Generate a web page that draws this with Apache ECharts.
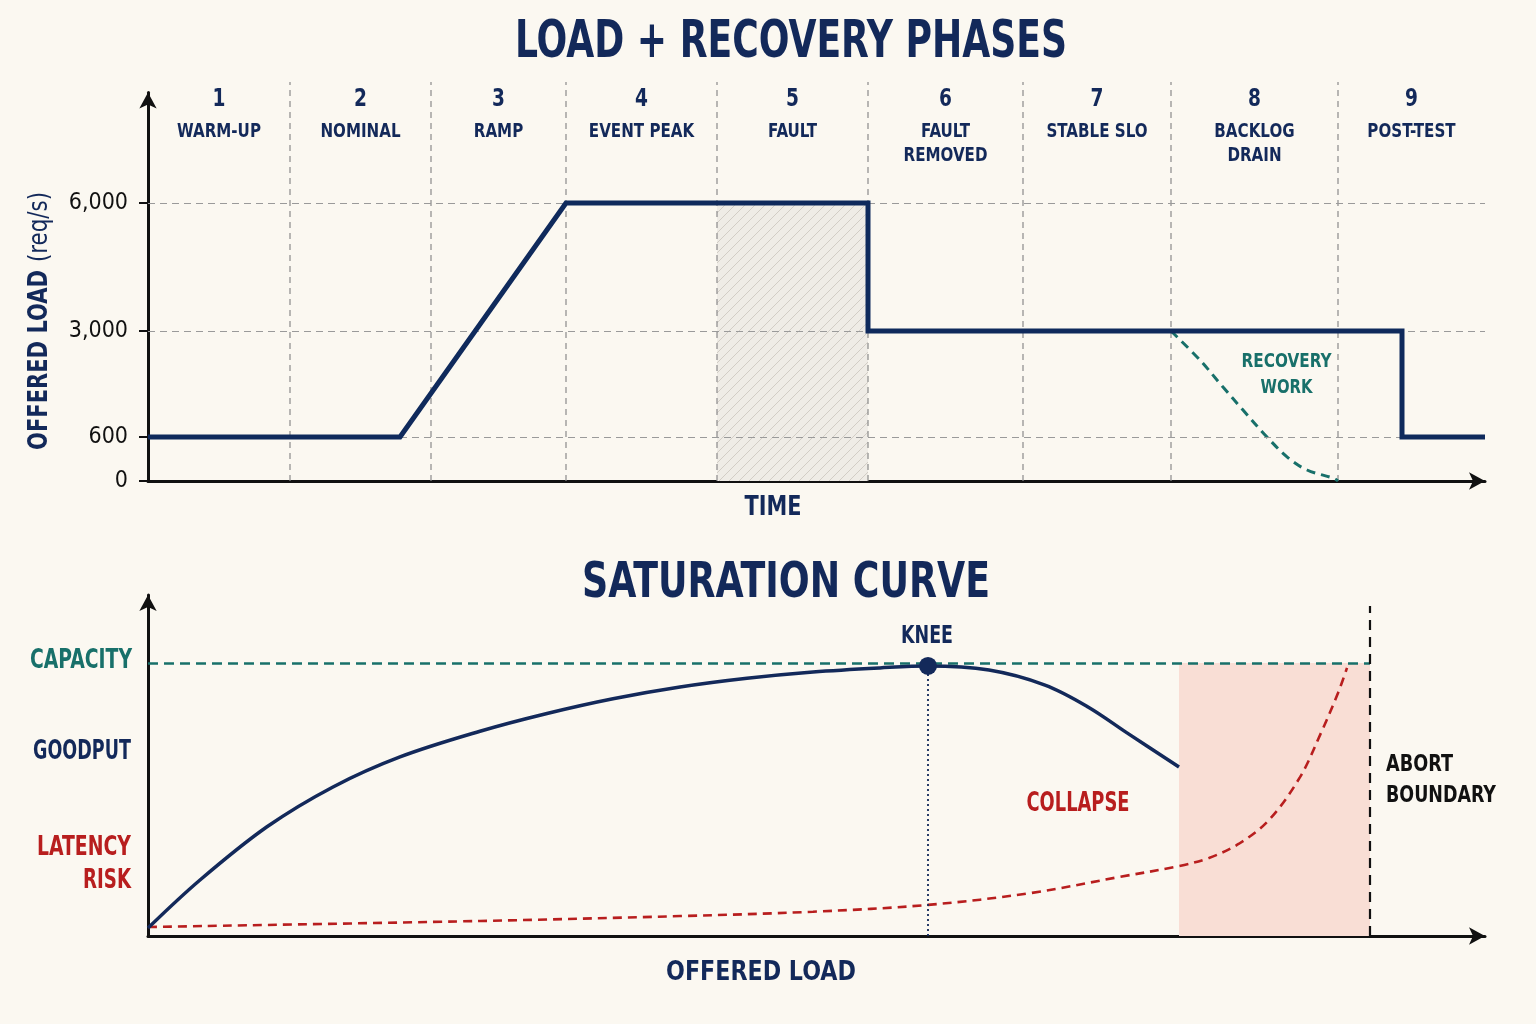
<!DOCTYPE html>
<html>
<head>
<meta charset="utf-8">
<script src="https://cdn.jsdelivr.net/npm/echarts@6/dist/echarts.min.js"></script>
<style>
html,body{margin:0;padding:0;background:#fbf8f1;}
#c{width:1536px;height:1024px;}
</style>
</head>
<body>
<div id="c"></div>
<script>
// ---------------- DATA ----------------
// Top panel: load + recovery phases (time in arbitrary units)
const phaseNumbers = ['1','2','3','4','5','6','7','8','9'];
const phaseNames = [['WARM-UP'],['NOMINAL'],['RAMP'],['EVENT PEAK'],['FAULT'],['FAULT','REMOVED'],['STABLE SLO'],['BACKLOG','DRAIN'],['POST-TEST']];
const phaseBounds = [0, 14.2, 28.3, 41.8, 56.9, 72.0, 87.5, 102.3, 119.0, 133.7];
const loadTime = [0, 25.2, 41.8, 72.0, 72.0, 125.4, 125.4, 133.7];
const loadReqs = [600, 600, 6000, 6000, 3000, 3000, 600, 600];
const recoveryTime = [102.3, 105.2, 107.5, 109.5, 111.9, 113.9, 115.9, 118.5, 119.0];
const recoveryReqs = [3000, 2340, 1730, 1210, 600, 330, 150, 40, 0];
const loadTicks = [0, 600, 3000, 6000];
const faultWindow = [56.9, 72.0];

// Bottom panel: saturation curve (offered load units, % of capacity)
const goodputLoad = [0, 5.2, 11.9, 18.5, 25.2, 33.2, 39.9, 46.5, 53.2, 59.9, 66.5, 73.2, 78.0, 84.1, 89.7, 94.0, 97.9, 103.1];
const goodputVal  = [2.9, 20.5, 40.0, 54.6, 65.6, 75.0, 81.5, 86.9, 91.2, 94.4, 96.7, 98.2, 98.9, 97.4, 91.9, 83.9, 74.4, 61.9];
const latencyLoad = [0, 33.2, 53.2, 66.5, 78.0, 88.4, 97.1, 103.1, 106.1, 109.1, 112.1, 115.2, 117.3, 119.0, 119.9];
const latencyVal  = [3.3, 5.5, 7.3, 8.9, 11.4, 15.8, 21.6, 25.6, 28.6, 33.8, 42.5, 58.2, 74.4, 89.0, 98.2];
const capacity = 100;
const kneeLoad = 78.0, kneeGoodput = 98.9;
const collapseStart = 103.1;
const abortLoad = 122.2;

// ---------------- STYLE ----------------
const NAVY = '#13295a', TEAL = '#18706a', RED = '#b81e1e', INK = '#111111', GRIDC = '#9a9a9a';
const FONT = '"DejaVu Sans Condensed", "DejaVu Sans", sans-serif';
// non-linear display positions of the load ticks (uneven tick spacing in the original)
const TICK_POS = [0, 44, 150, 278];
function disp(v) {
  for (let i = 1; i < loadTicks.length; i++) {
    if (v <= loadTicks[i] || i === loadTicks.length - 1) {
      const a = loadTicks[i-1], b = loadTicks[i];
      return TICK_POS[i-1] + (v - a) / (b - a) * (TICK_POS[i] - TICK_POS[i-1]);
    }
  }
}
const TOP_MAX = 388.5, BOUND_TOP = 399;
const BOT_MAX = 124.9;

function hatchCanvas() {
  const c = document.createElement('canvas');
  c.width = 10; c.height = 10;
  const g = c.getContext('2d');
  g.fillStyle = '#efece6'; g.fillRect(0, 0, 10, 10);
  g.strokeStyle = '#d2cdc5'; g.lineWidth = 1;
  g.beginPath();
  g.moveTo(-1, 11); g.lineTo(11, -1);
  g.moveTo(-1, 1); g.lineTo(1, -1);
  g.moveTo(9, 11); g.lineTo(11, 9);
  g.stroke();
  return c;
}

const axisLineStyle = {
  show: true, symbol: ['none', 'arrow'], symbolSize: [13, 16],
  lineStyle: { color: INK, width: 3 }
};

const series = [];
// fault hatched window
series.push({
  type: 'line', xAxisIndex: 0, yAxisIndex: 0, data: [], z: 0, silent: true,
  markArea: {
    silent: true,
    itemStyle: { color: { image: hatchCanvas(), repeat: 'repeat' } },
    data: [[{ coord: [faultWindow[0], 0] }, { coord: [faultWindow[1], disp(6000)] }]]
  }
});
// horizontal gridlines at tick values
series.push({
  type: 'line', xAxisIndex: 0, yAxisIndex: 0, data: [], z: 1, silent: true,
  markLine: {
    silent: true, symbol: ['none', 'none'], label: { show: false },
    lineStyle: { color: GRIDC, type: [7, 5], width: 1.2 },
    data: loadTicks.slice(1).map(v => ({ yAxis: disp(v) }))
  }
});
// phase boundaries
phaseBounds.slice(1, -1).forEach(t => {
  series.push({
    type: 'line', xAxisIndex: 0, yAxisIndex: 0, clip: false, silent: true, z: 1,
    symbol: 'none', lineStyle: { color: '#8a8a8a', type: [6, 5], width: 1.2 },
    data: [[t, 0], [t, BOUND_TOP]]
  });
});
// offered load
series.push({
  type: 'line', xAxisIndex: 0, yAxisIndex: 0, z: 5, symbol: 'none', silent: true,
  lineStyle: { color: '#0f2a5c', width: 5, join: 'miter', cap: 'butt' },
  data: loadTime.map((t, i) => [t, disp(loadReqs[i])])
});
// recovery work
series.push({
  type: 'line', xAxisIndex: 0, yAxisIndex: 0, z: 4, symbol: 'none', silent: true,
  smooth: 0.35,
  lineStyle: { color: TEAL, width: 3, type: [9, 6] },
  data: recoveryTime.map((t, i) => [t, disp(recoveryReqs[i])])
});
// collapse area
series.push({
  type: 'line', xAxisIndex: 1, yAxisIndex: 1, data: [], z: 0, silent: true,
  markArea: {
    silent: true, itemStyle: { color: '#f9ded5' },
    data: [[{ coord: [collapseStart, 0] }, { coord: [abortLoad, capacity] }]]
  }
});
// capacity / abort / knee guide lines
series.push({
  type: 'line', xAxisIndex: 1, yAxisIndex: 1, data: [], z: 2, silent: true,
  markLine: {
    silent: true, symbol: ['none', 'none'], label: { show: false },
    data: [
      [{ coord: [0, capacity], lineStyle: { color: TEAL, width: 2.5, type: [10, 6] } }, { coord: [abortLoad, capacity] }],
      [{ coord: [abortLoad, 0], lineStyle: { color: INK, width: 2.2, type: [10, 7] } }, { coord: [abortLoad, 120.9] }],
      [{ coord: [kneeLoad, 0], lineStyle: { color: NAVY, width: 1.8, type: [2, 3] } }, { coord: [kneeLoad, kneeGoodput] }]
    ]
  }
});
// goodput
series.push({
  type: 'line', xAxisIndex: 1, yAxisIndex: 1, z: 5, symbol: 'none', silent: true,
  smooth: 0.35,
  lineStyle: { color: NAVY, width: 3.5 },
  data: goodputLoad.map((x, i) => [x, goodputVal[i]])
});
// latency risk
series.push({
  type: 'line', xAxisIndex: 1, yAxisIndex: 1, z: 4, symbol: 'none', silent: true,
  smooth: 0.35,
  lineStyle: { color: RED, width: 2.6, type: [9, 6] },
  data: latencyLoad.map((x, i) => [x, latencyVal[i]])
});
// knee point
series.push({
  type: 'scatter', xAxisIndex: 1, yAxisIndex: 1, z: 6, silent: true,
  symbolSize: 18, itemStyle: { color: NAVY, opacity: 1 },
  data: [[kneeLoad, kneeGoodput]]
});

const option = {
  backgroundColor: '#fbf8f1',
  animation: false,
  grid: [
    { left: 148, top: 92.5, width: 1337, height: 388.5 },
    { left: 148, top: 595, width: 1337, height: 341 }
  ],
  xAxis: [
    { type: 'value', gridIndex: 0, min: 0, max: 133.7, axisLine: axisLineStyle,
      axisTick: { show: false }, axisLabel: { show: false }, splitLine: { show: false } },
    { type: 'value', gridIndex: 1, min: 0, max: 133.7, axisLine: axisLineStyle,
      axisTick: { show: false }, axisLabel: { show: false }, splitLine: { show: false } }
  ],
  yAxis: [
    { type: 'value', gridIndex: 0, min: 0, max: TOP_MAX, axisLine: axisLineStyle,
      axisTick: { show: true, customValues: TICK_POS, length: 9, lineStyle: { color: INK, width: 2 } },
      axisLabel: { show: true, customValues: TICK_POS, margin: 20, color: INK, fontSize: 23,
        fontFamily: FONT,
        formatter: v => { const i = TICK_POS.indexOf(v); return i < 0 ? '' : loadTicks[i].toLocaleString('en-US'); } },
      splitLine: { show: false } },
    { type: 'value', gridIndex: 1, min: 0, max: BOT_MAX, axisLine: axisLineStyle,
      axisTick: { show: false }, axisLabel: { show: false }, splitLine: { show: false } }
  ],
  series: series
};

const chart = echarts.init(document.getElementById('c'), null, { renderer: 'canvas', width: 1536, height: 1024 });
chart.setOption(option);

// ---------------- TEXT ANNOTATIONS ----------------
const mctx = document.createElement('canvas').getContext('2d');
function txt(text, x, y, size, color, o) {
  o = o || {};
  const weight = o.weight || 'bold';
  const font = weight + ' ' + size + 'px ' + FONT;
  mctx.font = font;
  const w = mctx.measureText(text).width;
  const sx = o.width ? o.width / w : (o.scale || 0.84);
  return {
    type: 'text', x: x, y: y, scaleX: sx, rotation: o.rotation || 0, silent: true, z: 100,
    style: { text: text, fill: color, font: font, align: o.align || 'center', verticalAlign: 'middle' }
  };
}
const px0 = t => chart.convertToPixel({ xAxisIndex: 0 }, t);
const px1 = t => chart.convertToPixel({ xAxisIndex: 1 }, t);
const els = [];
els.push(txt('LOAD + RECOVERY PHASES', 791, 44, 51, NAVY, { width: 552 }));
els.push(txt('SATURATION CURVE', 786, 584, 50, NAVY, { width: 408 }));
for (let i = 0; i < phaseNumbers.length; i++) {
  const cx = (px0(phaseBounds[i]) + px0(phaseBounds[i + 1])) / 2;
  els.push(txt(phaseNumbers[i], cx, 100, 24, NAVY, { scale: 0.86 }));
  phaseNames[i].forEach((line, j) => els.push(txt(line, cx, 132 + j * 24, 20, NAVY, { scale: 0.84 })));
}
els.push(txt('TIME', 773, 508, 27, NAVY, { width: 57 }));
els.push(txt('OFFERED LOAD', 761, 973, 27, NAVY, { width: 190 }));
els.push(txt('OFFERED LOAD', 40, 450, 27, NAVY, { width: 180, align: 'left', rotation: Math.PI / 2 }));
els.push(txt('(req/s)', 40, 262, 27, NAVY, { width: 70, align: 'left', rotation: Math.PI / 2, weight: 'normal' }));
const recX = (px0(recoveryTime[0]) + px0(phaseBounds[8])) / 2 + 32;
els.push(txt('RECOVERY', recX, 362, 20, TEAL, { width: 90 }));
els.push(txt('WORK', recX, 388, 20, TEAL, { width: 52 }));
els.push(txt('CAPACITY', 132, 661, 26, TEAL, { width: 102, align: 'right' }));
els.push(txt('GOODPUT', 131, 752, 26, NAVY, { width: 98, align: 'right' }));
els.push(txt('LATENCY', 131, 848, 26, RED, { width: 94, align: 'right' }));
els.push(txt('RISK', 131, 881, 26, RED, { width: 48, align: 'right' }));
els.push(txt('KNEE', px1(kneeLoad) - 1, 636, 25, NAVY, { width: 52 }));
els.push(txt('COLLAPSE', 1078, 804, 26, RED, { width: 103 }));
els.push(txt('ABORT', px1(abortLoad) + 16, 765, 23, INK, { width: 67, align: 'left' }));
els.push(txt('BOUNDARY', px1(abortLoad) + 16, 796, 23, INK, { width: 110, align: 'left' }));
chart.setOption({ graphic: { elements: els } });
</script>
</body>
</html>
